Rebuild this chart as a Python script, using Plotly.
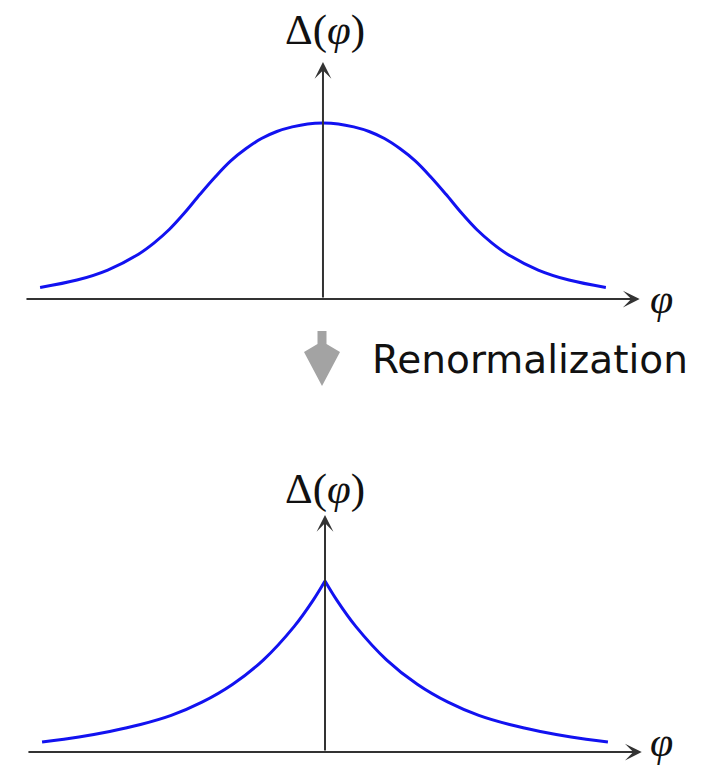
import plotly.graph_objects as go

# Field values sampled along phi before the renormalization step (symmetric bell)
phi = [-2.3, -2.0, -1.75, -1.5, -1.375, -1.25, -1.125, -1.0, -0.875, -0.75,
       -0.625, -0.5, -0.375, -0.25, -0.125, 0.0,
       0.125, 0.25, 0.375, 0.5, 0.625, 0.75, 0.875, 1.0, 1.125, 1.25,
       1.375, 1.5, 1.75, 2.0, 2.3]
delta_before = [0.066, 0.108, 0.165, 0.255, 0.318, 0.395, 0.49, 0.595, 0.695, 0.785,
                0.855, 0.912, 0.952, 0.978, 0.995, 1.0,
                0.995, 0.978, 0.952, 0.912, 0.855, 0.785, 0.695, 0.595, 0.49, 0.395,
                0.318, 0.255, 0.165, 0.108, 0.066]

# After renormalization: cusp at phi = 0, drawn as two halves meeting at the peak
phi_left = [-2.3, -2.0, -1.75, -1.5, -1.25, -1.0, -0.75, -0.5, -0.25, -0.1, 0.0]
delta_after_left = [0.057, 0.086, 0.117, 0.156, 0.208, 0.283, 0.385, 0.524, 0.714, 0.859, 0.972]
phi_right = [0.0, 0.1, 0.25, 0.5, 0.75, 1.0, 1.25, 1.5, 1.75, 2.0, 2.3]
delta_after_right = [0.972, 0.859, 0.714, 0.524, 0.385, 0.283, 0.208, 0.156, 0.117, 0.086, 0.057]

# Axis extents (arrow tails / tips) in phi and Delta units
axis_phi_start = -2.423
axis_phi_end = 2.575
axis_delta_top = 1.347

BLUE = "#1212f0"
AXIS = "#333333"
SERIF = "Liberation Serif, Times New Roman, serif"

fig = go.Figure()
fig.add_trace(go.Scatter(x=phi, y=delta_before, mode="lines",
                         line=dict(color=BLUE, width=3, shape="spline"),
                         xaxis="x", yaxis="y", hoverinfo="skip"))
fig.add_trace(go.Scatter(x=phi_left, y=delta_after_left, mode="lines",
                         line=dict(color=BLUE, width=3, shape="spline"),
                         xaxis="x2", yaxis="y2", hoverinfo="skip"))
fig.add_trace(go.Scatter(x=phi_right, y=delta_after_right, mode="lines",
                         line=dict(color=BLUE, width=3, shape="spline"),
                         xaxis="x2", yaxis="y2", hoverinfo="skip"))

annotations = []
for xr, yr in (("x", "y"), ("x2", "y2")):
    # horizontal phi axis
    annotations.append(dict(x=axis_phi_end, y=0, ax=axis_phi_start, ay=0,
                            xref=xr, yref=yr, axref=xr, ayref=yr, text="",
                            showarrow=True, arrowhead=3, arrowsize=1.4,
                            arrowwidth=2, arrowcolor=AXIS, standoff=0))
    # vertical Delta axis
    annotations.append(dict(x=0, y=axis_delta_top, ax=0, ay=0,
                            xref=xr, yref=yr, axref=xr, ayref=yr, text="",
                            showarrow=True, arrowhead=3, arrowsize=1.4,
                            arrowwidth=2, arrowcolor=AXIS, standoff=0))

# axis labels
for ytop, yphi in ((30, 299), (489, 742)):
    annotations.append(dict(x=325 / 712, y=1 - ytop / 767, xref="paper", yref="paper",
                            text="Δ(<i>φ</i>)", showarrow=False,
                            xanchor="center", yanchor="middle",
                            font=dict(family=SERIF, size=43, color="#111111")))
    annotations.append(dict(x=661 / 712, y=1 - yphi / 767, xref="paper", yref="paper",
                            text="<i>φ</i>", showarrow=False,
                            xanchor="center", yanchor="middle",
                            font=dict(family=SERIF, size=42, color="#111111")))

# caption of the renormalization step
annotations.append(dict(x=530 / 712, y=1 - 359 / 767, xref="paper", yref="paper",
                        text="Renormalization", showarrow=False,
                        xanchor="center", yanchor="middle",
                        font=dict(family="DejaVu Sans, Verdana, sans-serif",
                                  size=39, color="#111111")))

# gray downward step arrow, sized in pixels and anchored at its tip
step_arrow = dict(
    type="path", xref="paper", yref="paper",
    xsizemode="pixel", ysizemode="pixel",
    xanchor=322 / 712, yanchor=1 - 386 / 767,
    path="M 0,0 L 18,34 L 4.5,42 L 4.5,55 L -4.5,55 L -4.5,42 L -18,34 Z",
    fillcolor="#a3a3a3", line=dict(width=0), layer="above",
)

hidden = dict(visible=False, fixedrange=True)
fig.update_layout(
    width=712, height=767, autosize=False,
    margin=dict(l=0, r=0, t=0, b=0),
    paper_bgcolor="white", plot_bgcolor="rgba(0,0,0,0)",
    showlegend=False,
    xaxis=dict(domain=[0, 1], range=[-2.626, 3.163], anchor="y", **hidden),
    yaxis=dict(domain=[1 - 320 / 767, 1], range=[-0.119, 1.699], anchor="x", **hidden),
    xaxis2=dict(domain=[0, 1], range=[-2.642, 3.146], anchor="y2", **hidden),
    yaxis2=dict(domain=[0, 1 - 470 / 767], range=[-0.085, 1.602], anchor="x2", **hidden),
    annotations=annotations,
    shapes=[step_arrow],
)

fig.write_html("out.html")
